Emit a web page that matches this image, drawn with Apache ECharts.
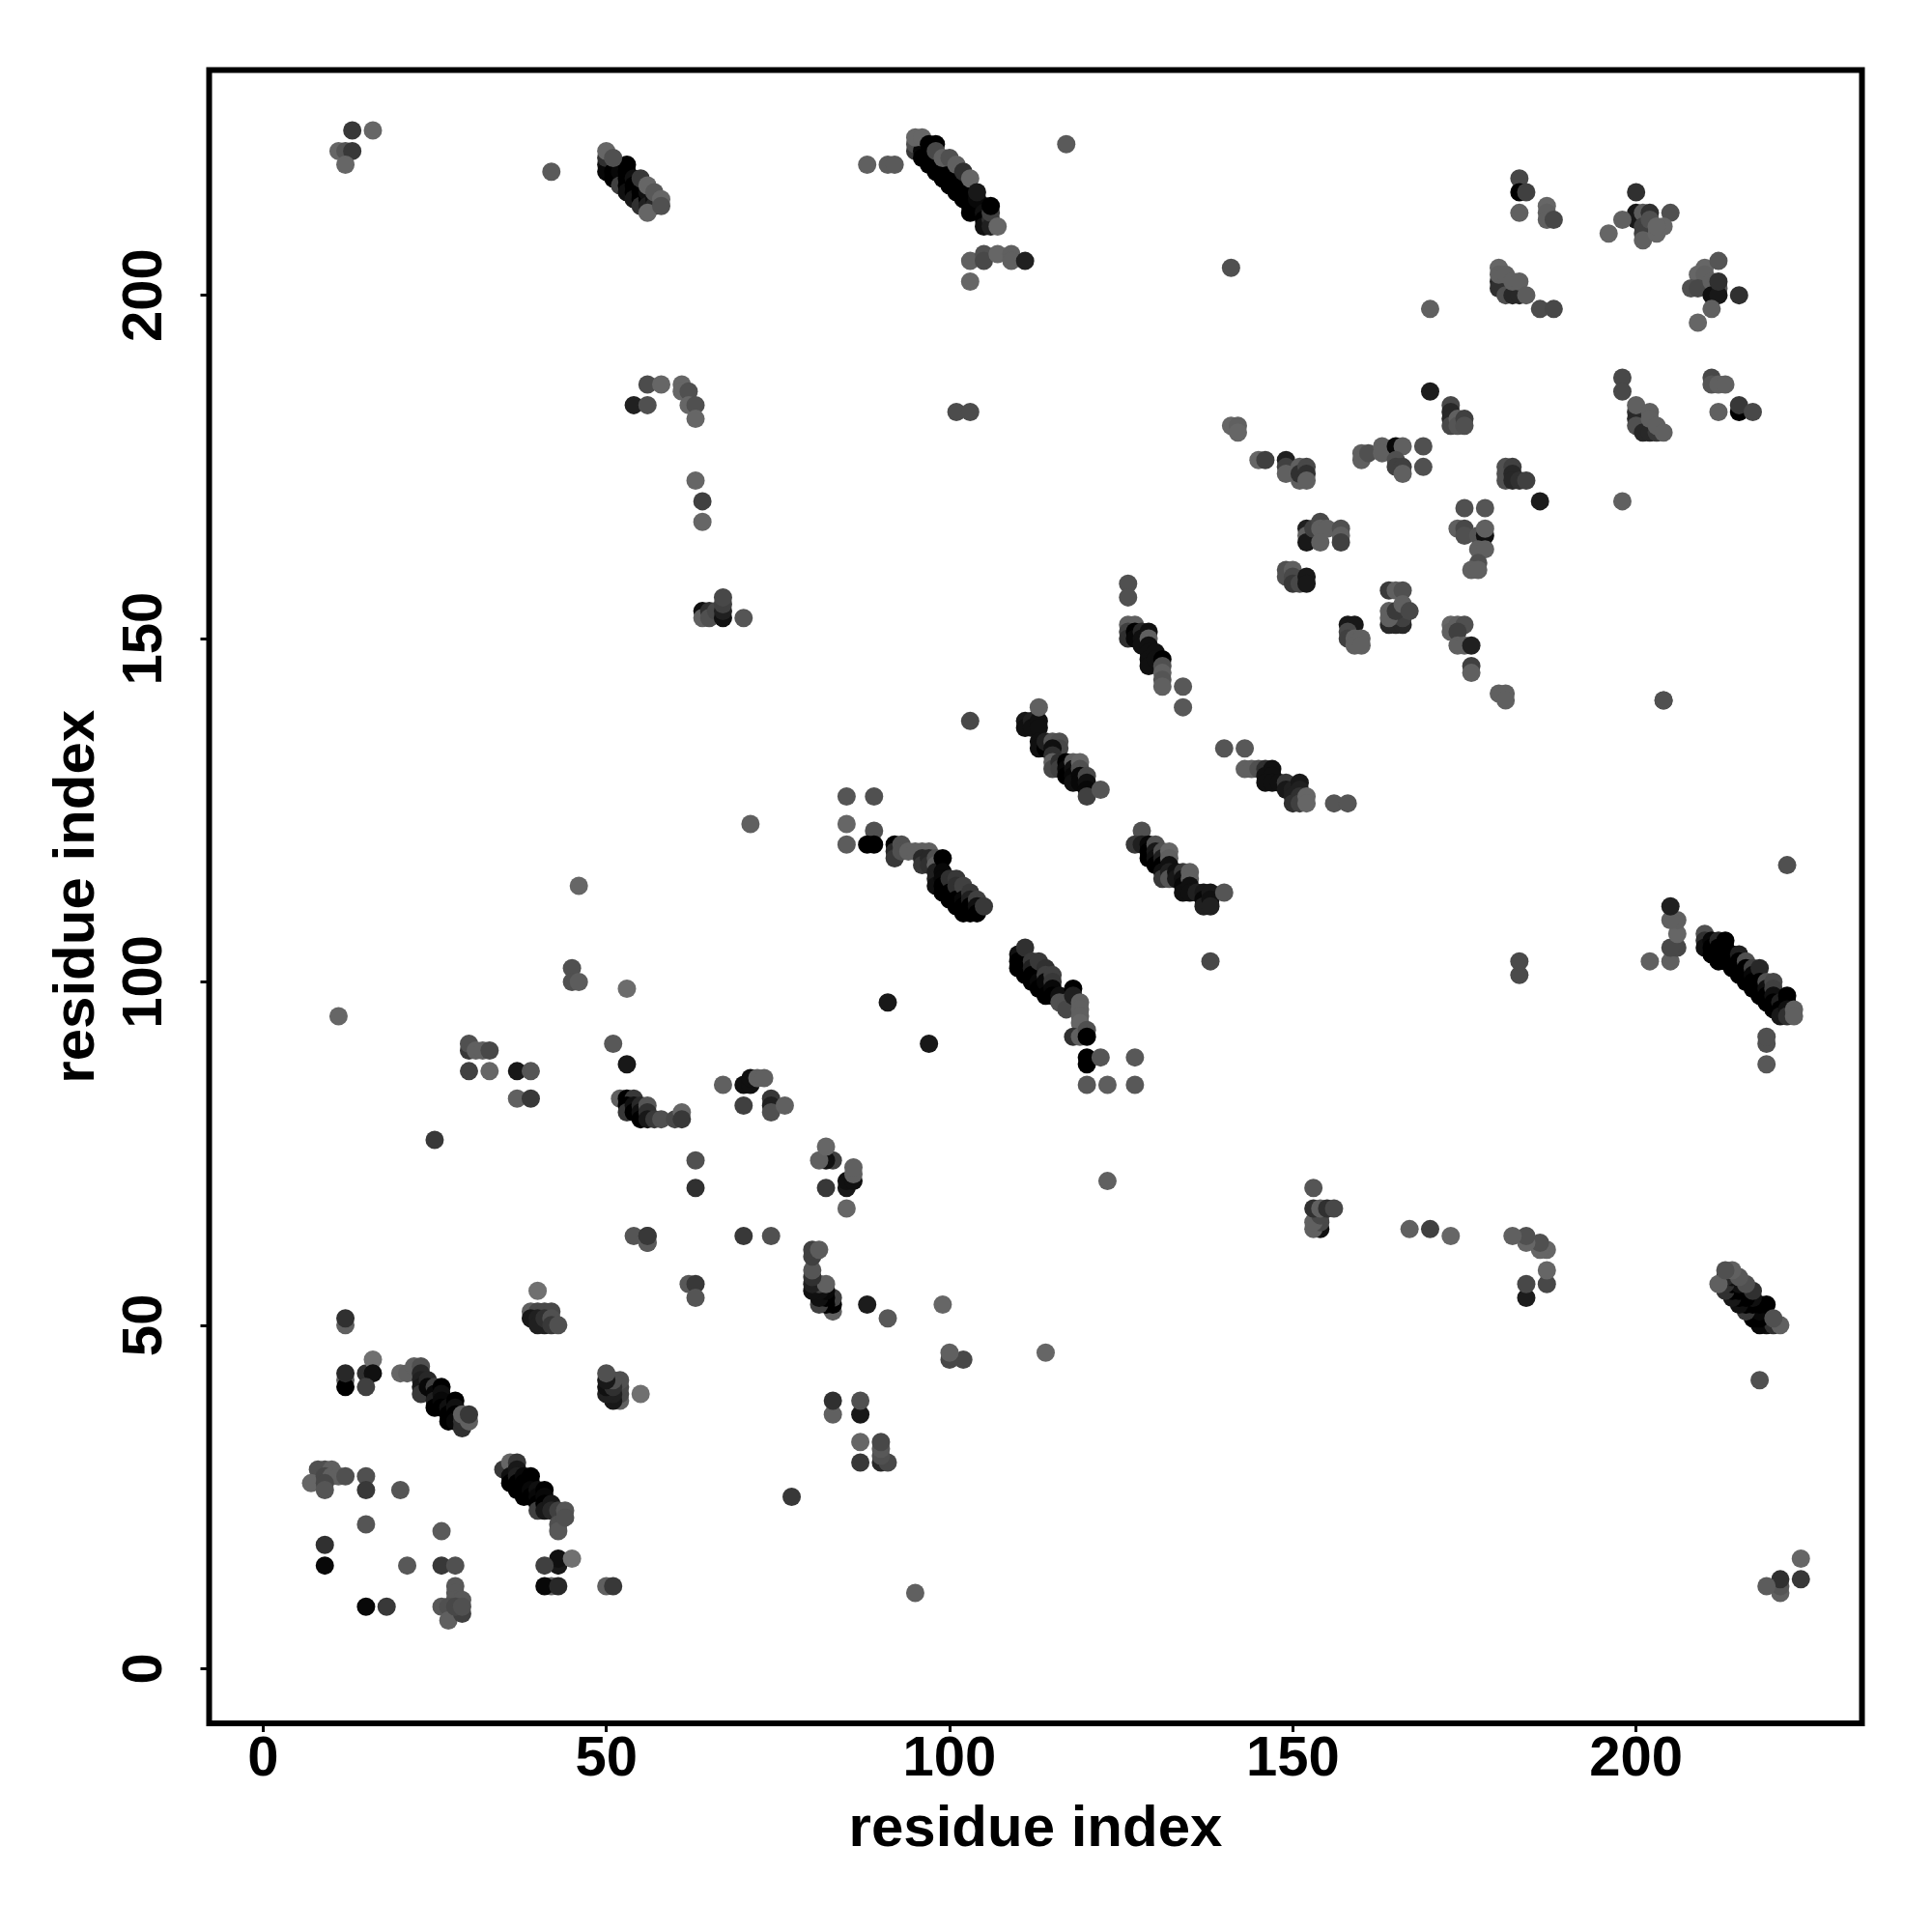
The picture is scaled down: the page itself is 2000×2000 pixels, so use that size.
<!DOCTYPE html>
<html>
<head>
<meta charset="utf-8">
<style>html,body{margin:0;padding:0;background:#fff}#c{width:2000px;height:2000px}</style>
<script src="https://cdn.jsdelivr.net/npm/echarts@6/dist/echarts.min.js"></script>
</head>
<body>
<div id="c"></div>
<script>
const xTicks = [0, 50, 100, 150, 200];
const yTicks = [0, 50, 100, 150, 200];
const axisTitle = "residue index";

// every point is [residue x, residue y, grey level of the dot]
const cornerUpper = [[13,224,56],[16,224,102],[11,221,102],[12,221,85],[13,221,56],[12,219,102],[42,218,90]];
const cornerLower = [[224,13,56],[224,16,102],[221,11,96],[221,12,85],[221,13,48],[219,12,92],[218,42,80]];
const strandA = [[50,219,16],[50,218,8],[50,220,48],[51,218,0],[51,217,0],[52,217,0],[52,218,8],[52,216,64],[53,218,0],[53,219,0],[53,217,0],[53,216,0],[53,215,16],[54,217,16],[54,216,0],[54,215,0],[54,214,24],[55,216,0],[55,215,0],[55,214,0],[55,213,48],[56,214,0],[56,215,16],[56,213,32],[57,214,16],[57,213,40],[50,221,102],[51,220,80],[55,217,56],[56,216,102],[56,212,102],[57,215,88],[58,214,102],[58,213,80]];
const strandAMirror = [[219,50,16],[218,50,8],[220,50,48],[218,51,0],[217,51,0],[217,52,0],[218,52,8],[216,52,56],[218,53,0],[219,53,0],[217,53,0],[216,53,0],[215,53,16],[217,54,16],[216,54,0],[215,54,0],[214,54,24],[216,55,0],[215,55,0],[214,55,0],[213,55,48],[214,56,0],[215,56,16],[213,56,48],[214,57,16],[213,57,40],[221,50,96],[220,51,80],[217,55,48],[216,56,80],[212,56,96],[215,57,88],[214,58,96],[213,58,80]];
const upperMid = [[56,187,76],[58,187,102],[61,187,102],[61,186,102],[62,186,80],[62,184,102],[63,184,80],[63,182,102],[54,184,32],[56,184,80],[63,173,102],[64,170,64],[64,167,102],[64,154,16],[64,153,96],[65,154,48],[65,153,80],[66,154,72],[67,153,16],[67,154,32],[67,155,64],[67,156,72],[70,153,85]];
const lowerMid = [[187,56,72],[187,58,102],[187,61,102],[186,61,102],[186,62,80],[184,62,102],[184,63,80],[182,63,96],[184,54,28],[184,56,72],[173,63,102],[170,64,64],[167,64,96],[154,64,16],[153,64,96],[154,65,72],[153,65,96],[154,66,72],[153,67,48],[154,67,96],[155,67,48],[156,67,72],[153,70,85]];
const strandB = [[88,219,96],[91,219,90],[92,219,90],[95,221,56],[95,222,80],[96,221,8],[96,220,0],[97,220,0],[97,219,0],[98,219,0],[98,218,0],[99,218,0],[99,217,0],[100,217,0],[100,216,0],[101,216,0],[101,215,0],[102,215,0],[102,214,0],[103,214,0],[103,213,0],[103,212,0],[104,213,0],[104,214,8],[105,213,8],[105,212,16],[105,211,0],[105,210,16],[106,211,48],[106,210,32],[106,212,64],[106,213,0],[95,223,102],[96,223,102],[97,222,0],[98,222,0],[98,221,72],[99,220,96],[100,220,80],[101,219,96],[102,218,48],[103,217,102],[104,215,24],[107,210,102],[103,205,96],[105,206,80],[105,205,72],[107,206,102],[109,206,96],[109,205,96],[111,205,32],[103,202,102],[101,183,76],[103,183,76],[117,222,90],[141,204,80]];
const strandBMirror = [[219,88,88],[219,91,80],[219,92,80],[210,107,80],[210,106,48],[210,105,16],[211,106,8],[211,105,0],[211,104,0],[212,106,40],[212,105,0],[212,104,0],[212,103,0],[213,106,0],[213,105,0],[213,104,0],[213,103,0],[214,104,0],[214,103,0],[214,102,0],[215,104,32],[215,103,0],[215,102,0],[215,101,0],[216,103,80],[216,102,0],[216,101,0],[216,100,0],[217,102,64],[217,101,8],[217,100,0],[217,99,0],[218,102,40],[218,100,0],[218,99,0],[218,98,0],[219,100,80],[219,99,16],[219,98,0],[219,97,0],[220,100,72],[220,99,64],[220,98,16],[220,97,0],[220,96,0],[221,97,32],[221,96,0],[221,95,24],[222,98,0],[222,97,0],[222,96,16],[222,95,48],[223,96,96],[223,95,96],[205,103,96],[206,105,72],[205,105,72],[206,107,102],[206,109,96],[205,109,96],[205,111,32],[202,103,96],[183,101,74],[183,103,74],[222,117,80],[204,141,80]];
const upperRightA = [[141,181,102],[142,181,96],[142,180,102],[145,176,102],[146,176,64],[149,176,32],[149,175,64],[149,174,96],[151,175,96],[151,173,96],[151,174,48],[152,175,72],[152,174,48],[152,173,96],[152,166,32],[152,165,96],[152,164,24],[153,166,64],[154,167,72],[154,166,96],[155,166,96],[154,164,96],[157,166,80],[157,165,96],[157,164,64],[149,160,80],[149,159,80],[150,160,96],[150,159,72],[150,158,56],[151,158,72],[152,159,24],[152,158,24],[126,158,80],[126,156,80],[160,177,96],[160,176,96],[161,177,80],[163,178,96],[163,177,96],[165,178,8],[166,178,96],[169,178,80],[165,176,80],[165,175,64],[166,175,64],[166,174,96],[169,175,80]];
const upperRightB = [[170,186,28],[170,198,96],[173,184,72],[173,183,40],[173,182,40],[173,181,72],[174,182,96],[174,181,85],[175,182,64],[175,181,80],[181,175,80],[181,174,80],[181,173,80],[182,175,64],[182,174,40],[182,173,40],[183,173,48],[184,173,64],[186,170,28],[198,170,96],[175,169,80],[178,169,85],[174,166,96],[175,166,72],[175,165,80],[177,165,85],[178,165,16],[178,166,96],[177,163,96],[178,163,96],[177,161,80],[176,160,96],[177,160,96]];
const upperRightC = [[164,157,58],[165,157,96],[166,157,80],[164,152,40],[165,152,40],[166,152,40],[166,153,64],[164,154,96],[164,153,96],[165,154,58],[166,155,96],[167,154,72],[158,152,24],[159,152,24],[158,151,72],[158,150,64],[159,150,96],[159,149,96],[160,150,96],[160,149,96],[173,152,102],[173,151,96],[174,152,96],[175,152,80],[174,151,64],[174,149,96],[175,149,96],[176,149,32],[176,146,64],[176,145,96],[180,142,96],[181,142,96],[181,141,96],[204,141,80]];
const topRight = [[183,217,72],[183,215,0],[184,215,64],[183,212,96],[187,213,102],[187,212,96],[187,211,96],[188,211,72],[200,215,48],[200,212,24],[200,211,24],[201,212,92],[202,212,48],[205,212,80],[198,211,96],[196,209,102],[201,210,64],[201,209,64],[201,208,96],[202,211,80],[203,209,102],[204,210,102],[203,210,102],[210,204,102],[212,205,85],[209,203,102],[210,203,96],[208,201,80],[209,201,72],[211,202,96],[212,201,85],[211,200,16],[212,200,24],[212,202,48],[215,200,48],[211,198,96],[209,196,102],[180,202,40],[180,201,48],[180,204,102],[180,203,96],[181,203,96],[181,200,80],[182,200,40],[183,200,40],[182,202,96],[183,202,96],[184,200,92],[186,198,76],[188,198,72],[198,188,72],[198,186,72],[211,188,72],[211,187,85],[212,187,96],[213,187,96],[215,183,0],[215,184,56],[217,183,72],[212,183,96],[200,183,48],[200,182,40],[200,184,96],[200,181,80],[201,180,40],[202,180,40],[203,180,56],[202,183,96],[202,182,96],[203,181,96],[204,180,96]];
const ladderC = [[126,152,96],[127,152,96],[126,151,64],[126,150,48],[127,151,0],[127,150,8],[128,151,40],[128,150,16],[128,149,16],[129,151,16],[129,150,96],[129,149,16],[129,148,16],[129,147,16],[129,146,16],[130,148,16],[130,147,16],[131,147,0],[131,146,80],[131,145,96],[131,144,85],[131,143,96],[134,143,88],[134,140,88]];
const ladderCMirror = [[140,134,85],[143,134,88],[143,131,96],[144,131,96],[145,131,80],[146,131,48],[147,131,16],[146,130,16],[147,130,16],[146,129,16],[147,129,16],[148,129,16],[149,129,56],[149,128,24],[150,128,32],[150,127,32],[150,126,48],[151,129,24],[151,128,32],[151,127,48],[151,126,64],[152,127,102],[152,126,102],[156,126,85],[158,126,85]];
const ladderD = [[111,138,24],[111,137,16],[112,138,32],[112,137,16],[113,138,16],[113,137,16],[113,135,16],[113,134,16],[114,134,0],[114,135,32],[115,135,85],[116,135,80],[116,134,72],[115,134,16],[115,133,48],[115,132,96],[115,131,72],[116,132,48],[116,131,64],[117,132,0],[117,131,8],[117,130,0],[118,132,96],[118,131,16],[118,130,8],[118,129,16],[119,132,102],[119,131,80],[119,130,8],[119,129,8],[120,130,72],[120,129,16],[120,128,8],[120,127,64],[113,140,96],[122,128,85],[103,138,72]];
const ladderDMirror = [[128,122,80],[127,120,56],[128,120,32],[129,120,8],[129,119,0],[129,118,0],[130,120,80],[130,119,24],[130,118,16],[130,117,0],[131,119,80],[131,118,32],[131,117,0],[131,116,16],[131,115,56],[132,119,102],[132,118,96],[132,117,16],[132,116,32],[132,115,85],[133,116,16],[133,115,24],[134,116,56],[134,115,16],[134,114,8],[134,113,16],[135,116,96],[135,115,96],[135,114,16],[135,113,16],[136,113,32],[137,113,24],[137,112,8],[137,111,32],[138,113,24],[138,112,16],[138,111,32],[140,113,85],[138,103,72]];
const ladderE = [[85,127,85],[89,127,80],[85,123,102],[89,122,80],[85,120,92],[88,120,0],[89,120,0],[92,120,0],[92,119,40],[92,118,56],[93,120,80],[93,119,80],[94,119,96],[95,119,96],[96,119,96],[97,119,96],[96,118,40],[96,117,56],[97,118,40],[97,117,48],[98,118,80],[98,117,96],[98,116,32],[98,115,32],[98,114,16],[99,118,0],[99,116,8],[99,115,8],[99,114,0],[99,113,0],[100,115,48],[100,113,0],[100,112,0],[101,115,56],[101,114,48],[101,112,0],[101,111,0],[102,114,64],[102,112,8],[102,111,0],[102,110,0],[103,113,56],[103,112,32],[103,111,0],[103,110,0],[104,112,64],[104,111,16],[104,110,0],[105,111,56]];
const ladderEMirror = [[110,104,16],[110,103,0],[110,102,0],[111,105,48],[111,102,0],[111,101,0],[112,103,56],[112,102,32],[112,101,0],[112,100,0],[113,103,56],[113,100,8],[113,99,0],[114,102,48],[114,101,64],[114,100,8],[114,98,0],[115,101,64],[115,100,56],[115,99,8],[115,98,0],[116,98,16],[116,97,80],[117,97,80],[117,96,72],[118,99,0],[118,98,32],[119,97,96],[119,96,96],[119,95,96],[119,94,102],[118,92,48],[119,92,96],[120,93,80],[120,92,0],[120,89,0],[120,88,0],[122,89,85],[127,89,88],[120,85,88],[123,85,94],[127,85,88]];
const scattered = [[91,97,24],[97,91,24],[71,123,96],[123,71,96],[46,114,102],[114,46,102],[45,102,80],[45,100,80],[46,100,92],[53,99,108],[11,95,102],[102,45,72],[100,45,72],[100,46,96],[99,53,102],[95,11,96],[25,77,56],[77,25,56]];
const patchF = [[30,90,56],[30,91,80],[31,90,96],[32,90,96],[33,90,72],[30,87,64],[33,87,102],[37,87,24],[39,87,85],[37,83,96],[39,83,56],[51,91,88],[53,88,24]];
const patchFMirror = [[90,30,40],[91,30,72],[90,31,80],[90,32,88],[90,33,72],[87,30,56],[87,33,102],[87,37,24],[87,39,80],[83,37,96],[83,39,48],[91,51,88],[88,53,28]];
const patchG = [[52,83,96],[53,83,0],[54,83,56],[53,82,0],[53,81,56],[54,82,16],[54,81,0],[55,82,40],[55,81,16],[55,80,0],[56,82,85],[56,81,48],[56,80,24],[57,80,56],[58,80,80],[60,80,72],[61,81,102],[61,80,56]];
const patchGMirror = [[83,52,96],[83,53,0],[83,54,64],[82,53,0],[81,53,64],[82,54,0],[81,54,16],[82,55,8],[81,55,16],[80,55,16],[81,56,64],[80,56,32],[82,56,96],[80,57,48],[80,58,85],[80,60,64],[80,61,64],[81,61,92]];
const patchH = [[67,85,96],[70,85,16],[71,85,16],[71,86,16],[72,86,96],[70,82,64],[73,86,96],[74,83,56],[74,82,32],[74,81,80],[76,82,96],[63,74,80],[63,70,48],[54,63,85],[56,62,96],[56,63,56],[62,56,88],[63,56,56],[63,54,85]];
const patchHMirror = [[85,67,102],[85,70,24],[85,71,16],[86,71,16],[86,72,96],[82,70,56],[86,73,96],[83,74,64],[82,74,16],[81,74,96],[82,76,102],[74,63,80],[70,63,56],[56,62,90],[56,63,56]];
const patchI = [[40,55,112],[39,52,96],[40,52,72],[41,52,72],[42,52,72],[39,51,24],[40,51,32],[40,50,32],[41,50,32],[41,51,48],[42,51,80],[42,50,56],[43,50,80],[12,50,96],[12,51,48],[12,42,96],[12,41,0],[12,43,40],[15,43,48],[16,45,112],[16,43,16],[15,41,64]];
const patchIMirror = [[55,40,112],[52,39,96],[52,40,72],[52,41,72],[52,42,80],[51,39,24],[51,40,32],[50,40,32],[50,41,16],[51,41,48],[51,42,80],[50,42,24],[50,43,80],[50,12,96],[51,12,56],[42,12,96],[41,12,8],[43,12,40],[43,15,24],[43,16,16],[45,16,112],[41,15,64]];
const sheetJ = [[20,43,102],[21,43,96],[22,44,96],[23,44,80],[23,43,40],[23,42,32],[23,41,24],[23,40,56],[24,42,40],[24,41,8],[25,41,64],[25,40,8],[25,39,32],[25,38,0],[26,41,0],[26,40,16],[26,39,8],[26,38,0],[27,38,16],[27,37,0],[27,36,0],[28,39,0],[28,38,16],[28,37,0],[28,36,8],[29,35,48],[29,36,48],[29,37,96],[30,36,96],[30,37,56]];
const sheetJMirror = [[35,29,56],[36,30,102],[37,30,56],[36,28,16],[36,27,0],[37,29,24],[37,28,32],[37,27,0],[37,26,0],[38,28,8],[38,27,0],[38,26,0],[38,25,0],[39,28,0],[39,27,0],[39,26,8],[39,25,0],[40,26,16],[40,25,8],[40,24,0],[40,23,64],[41,26,0],[41,25,8],[41,24,0],[41,23,24],[42,24,24],[42,23,40],[43,23,64],[43,21,80],[43,20,88],[44,23,85],[44,22,80]];
const cornerK = [[8,29,80],[9,29,80],[10,29,96],[7,27,102],[9,28,72],[10,28,96],[11,28,96],[9,27,72],[9,26,85],[12,28,80],[15,28,80],[15,26,56],[20,26,85],[15,21,85],[9,18,48],[9,15,8]];
const cornerKMirror = [[26,20,90],[18,9,56],[15,9,8],[21,15,88],[26,15,56],[28,15,80],[28,12,88],[28,11,88],[28,10,88],[29,10,88],[26,9,88],[27,9,80],[27,7,96],[29,8,64],[28,9,72],[29,9,80]];

const allPoints = [].concat(cornerUpper, cornerLower, strandA, strandAMirror, upperMid, lowerMid, strandB, strandBMirror, upperRightA, upperRightB, upperRightC, topRight, ladderC, ladderCMirror, ladderD, ladderDMirror, ladderE, ladderEMirror, scattered, patchF, patchFMirror, patchG, patchGMirror, patchH, patchHMirror, patchI, patchIMirror, sheetJ, sheetJMirror, cornerK, cornerKMirror);

const chart = echarts.init(document.getElementById('c'), null, {renderer:'canvas', width:2000, height:2000});
const fontFamily = '"Liberation Sans", Arial, sans-serif';
chart.setOption({
  animation: false,
  backgroundColor: '#fff',
  grid: {left: 216.5, right: 72.5, top: 72.5, bottom: 216, show: true, borderWidth: 6, borderColor: '#000', backgroundColor: 'transparent'},
  xAxis: {
    type: 'value', min: -7.85, max: 232.9,
    name: axisTitle, nameLocation: 'middle', nameGap: 80,
    nameTextStyle: {fontFamily, fontWeight: 'bold', fontSize: 60, color: '#000'},
    splitLine: {show: false},
    axisLine: {show: false, onZero: false},
    axisTick: {show: true, length: 9, lineStyle: {color: '#000', width: 3}, customValues: xTicks},
    axisLabel: {show: true, margin: 9, fontFamily, fontWeight: 'bold', fontSize: 58, color: '#000', customValues: xTicks}
  },
  yAxis: {
    type: 'value', min: -7.98, max: 232.8,
    name: axisTitle, nameLocation: 'middle', nameGap: 106,
    nameTextStyle: {fontFamily, fontWeight: 'bold', fontSize: 60, color: '#000'},
    splitLine: {show: false},
    axisLine: {show: false, onZero: false},
    axisTick: {show: true, length: 9, lineStyle: {color: '#000', width: 3}, customValues: yTicks},
    axisLabel: {show: true, rotate: 90, margin: 37, fontFamily, fontWeight: 'bold', fontSize: 58, color: '#000', customValues: yTicks, align: 'center', verticalAlign: 'bottom'}
  },
  series: [{
    type: 'scatter',
    silent: true,
    symbol: 'circle',
    symbolSize: 19,
    data: allPoints,
    encode: {x: 0, y: 1},
    itemStyle: {opacity: 1, color: p => { const g = p.value[2]; return 'rgb(' + g + ',' + g + ',' + g + ')'; }}
  }]
});
</script>
</body>
</html>
